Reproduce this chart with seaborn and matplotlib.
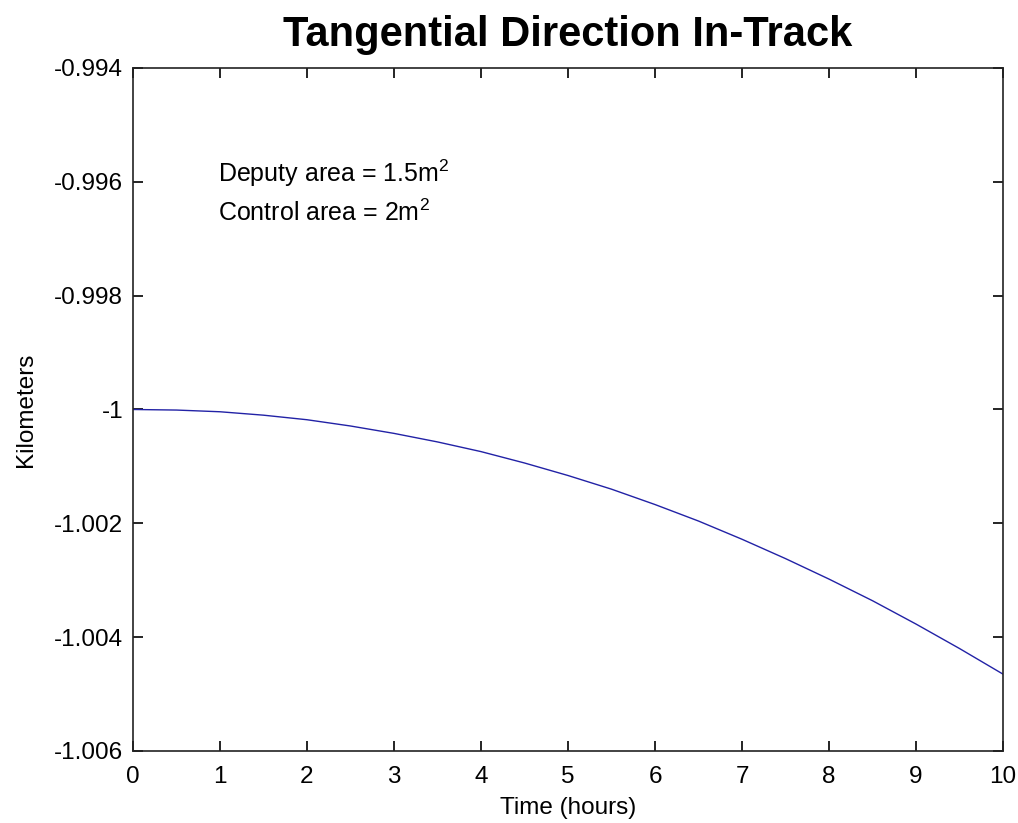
import matplotlib
matplotlib.use("Agg")
import matplotlib.pyplot as plt
import seaborn as sns
import pandas as pd

# In-track relative position of the deputy over ten hours
time_hours = [0, 0.5, 1, 1.5, 2, 2.5, 3, 3.5, 4, 4.5, 5, 5.5, 6, 6.5, 7, 7.5, 8, 8.5, 9, 9.5, 10]
position_km = [-1.00000, -1.00001, -1.00004, -1.00010, -1.00018, -1.00029, -1.00042,
               -1.00057, -1.00074, -1.00094, -1.00116, -1.00140, -1.00167, -1.00196,
               -1.00228, -1.00262, -1.00298, -1.00336, -1.00377, -1.00420, -1.00465]

x_ticks = [0, 1, 2, 3, 4, 5, 6, 7, 8, 9, 10]
y_ticks = [-1.006, -1.004, -1.002, -1.000, -0.998, -0.996, -0.994]
y_tick_labels = ["-1.006", "-1.004", "-1.002", "-1", "-0.998", "-0.996", "-0.994"]

df = pd.DataFrame({"Time (hours)": time_hours, "Kilometers": position_km})

sns.set_style("ticks")
plt.rcParams["font.family"] = ["Liberation Sans", "DejaVu Sans"]
plt.rcParams["mathtext.fontset"] = "custom"
plt.rcParams["mathtext.rm"] = "Liberation Sans"
plt.rcParams["text.color"] = "black"
plt.rcParams["axes.labelcolor"] = "black"

fig = plt.figure(figsize=(10.18, 8.23), dpi=100)
ax = fig.add_axes([0.1306, 0.0875, 0.8547, 0.8299])

sns.lineplot(data=df, x="Time (hours)", y="Kilometers", ax=ax,
             color="#2222a6", linewidth=1.0)

ax.set_xlim(0, 10)
ax.set_ylim(-1.006, -0.994)
ax.set_xticks(x_ticks)
ax.set_xticklabels([str(t) for t in x_ticks])
ax.set_yticks(y_ticks)
ax.set_yticklabels(y_tick_labels)

ax.tick_params(direction="in", length=7, width=1.2, labelsize=17.5,
               top=True, right=True, colors="black")
ax.tick_params(axis="x", pad=11)
ax.tick_params(axis="y", pad=7)
for side in ax.spines.values():
    side.set_visible(True)
    side.set_linewidth(1.2)
    side.set_color("#222222")

ax.set_xlabel("Time (hours)", fontsize=17.5, labelpad=6)
ax.set_ylabel("Kilometers", fontsize=17.5, labelpad=12)
ax.set_title("Tangential Direction In-Track", fontsize=30, fontweight="bold",
             color="black", pad=16)

ax.text(0.98, -0.99585, r"Deputy area = 1.5m$^2$", fontsize=18, va="center", ha="left")
ax.text(0.98, -0.99655, r"Control area = 2m$^2$", fontsize=18, va="center", ha="left")

fig.savefig("out.png", dpi=100, facecolor="white")
